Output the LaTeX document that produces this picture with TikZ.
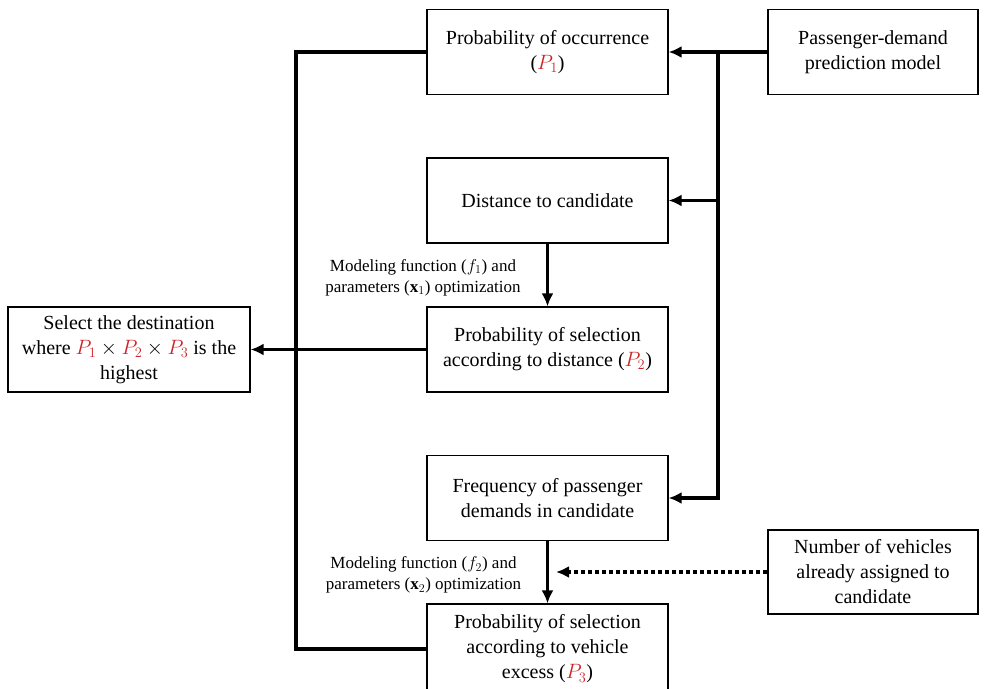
\documentclass[tikz,border=0pt]{standalone}
\usepackage{fontspec}
\setmainfont{Liberation Serif}
\usetikzlibrary{arrows.meta}
\definecolor{pred}{RGB}{205,35,40}
\newcommand{\pr}[1]{\textcolor{pred}{P_{#1}}}
\tikzstyle{block} = [rectangle,
                    align=center,
                    draw=black,
                    line width=1.2pt,
                    inner sep=0pt,
                    minimum width=241pt,
                    minimum height=85pt,
                    font=\fontsize{20}{25}\selectfont]
\tikzstyle{note} = [align=center,
                   inner sep=0pt,
                   font=\fontsize{17}{21}\selectfont]
\tikzstyle{flow} = [x=1pt,
                   y=-1pt,
                   line width=3.5pt,
                   >={Latex[length=13pt,width=12pt]}]

\begin{document}
\begin{tikzpicture}[flow]
    \useasboundingbox (0,0) rectangle (987,688);
    \node (occ) [block] at (547.5,52) {Probability of occurrence\\($\pr{1}$)};
    \node (pdm) [block, minimum width=210pt] at (873,52) {Passenger-demand\\prediction model};
    \node (dist) [block] at (547.5,200.5) {Distance to candidate};
    \node (sel2) [block] at (547.5,349.5) {Probability of selection\\according to distance ($\pr{2}$)};
    \node (dest) [block, minimum width=242pt] at (129,349.5) {Select the destination\\where $\pr{1}\times\pr{2}\times\pr{3}$ is the\\highest};
    \node (freq) [block] at (547.5,498) {Frequency of passenger\\demands in candidate};
    \node (sel3) [block, minimum height=90pt] at (547.5,649) {Probability of selection\\according to vehicle\\excess ($\pr{3}$)};
    \node (veh) [block, minimum width=210pt, minimum height=84pt] at (873,572) {Number of vehicles\\already assigned to\\candidate};
    \node (fit1) [note] at (423,277.5) {Modeling function ($f_1$) and\\parameters ($\mathbf{x}_1$) optimization};
    \node (fit2) [note] at (423.5,575) {Modeling function ($f_2$) and\\parameters ($\mathbf{x}_2$) optimization};
    \coordinate (fork) at (718,52);
    \coordinate (corner) at (296,649);
    \coordinate (hint) at (556,572);
    \draw[->] (pdm) -- (occ);
    \draw[->] (fork) |- (dist);
    \draw[->] (fork) |- (freq);
    \draw[->] (dist) -- (sel2);
    \draw[->] (freq) -- (sel3);
    \draw[->] (sel2) -- (dest);
    \draw (occ.west) -| (corner) -- (sel3.west);
    \draw[->, dash pattern=on 4pt off 3pt] (veh) -- (hint);
\end{tikzpicture}
\end{document}
